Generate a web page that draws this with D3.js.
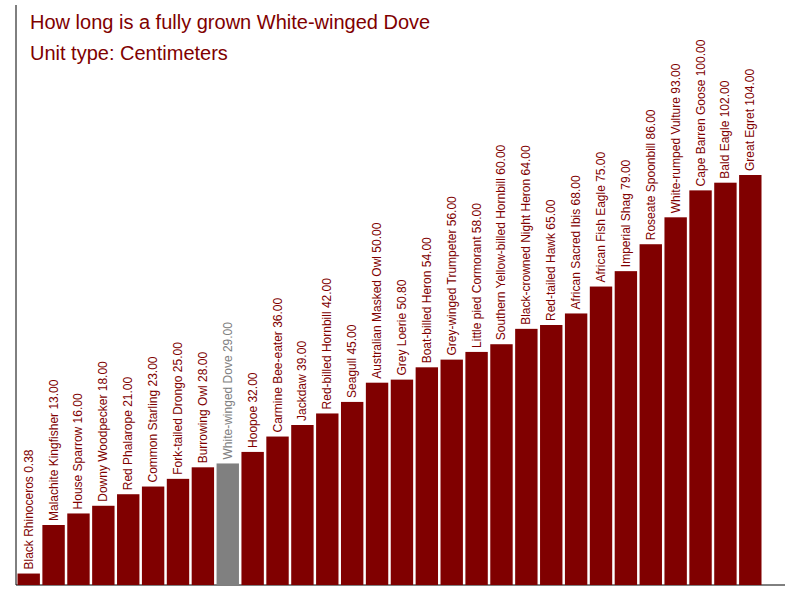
<!DOCTYPE html>
<html><head><meta charset="utf-8">
<script src="https://cdn.jsdelivr.net/npm/d3@7"></script>
<style>body{margin:0;background:#fff}</style></head>
<body><svg id="c" width="800" height="600"></svg>
<script>
const categories=["Black Rhinoceros","Malachite Kingfisher","House Sparrow","Downy Woodpecker","Red Phalarope","Common Starling","Fork-tailed Drongo","Burrowing Owl","White-winged Dove","Hoopoe","Carmine Bee-eater","Jackdaw","Red-billed Hornbill","Seagull","Australian Masked Owl","Grey Loerie","Boat-billed Heron","Grey-winged Trumpeter","Little pied Cormorant","Southern Yellow-billed Hornbill","Black-crowned Night Heron","Red-tailed Hawk","African Sacred Ibis","African Fish Eagle","Imperial Shag","Roseate Spoonbill","White-rumped Vulture","Cape Barren Goose","Bald Eagle","Great Egret"];
const values=[0.38,13,16,18,21,23,25,28,29,32,36,39,42,45,50,50.8,54,56,58,60,64,65,68,75,79,86,93,100,102,104];
const highlight="White-winged Dove";
const svg=d3.select("#c");
const x=d3.scaleBand().domain(categories).range([17,762]).paddingInner(0.1).paddingOuter(0.02);
const y=d3.scaleLinear().domain([-2.6,104]).range([585,175]);
svg.append("line").attr("x1",16).attr("x2",16).attr("y1",5).attr("y2",585).attr("stroke","#000");
svg.append("line").attr("x1",16).attr("x2",785).attr("y1",585).attr("y2",585).attr("stroke","#000");
svg.selectAll("rect").data(values).join("rect")
 .attr("x",(d,i)=>x(categories[i])).attr("width",x.bandwidth())
 .attr("y",d=>y(d)).attr("height",d=>585-y(d))
 .attr("fill",(d,i)=>categories[i]===highlight?"#808080":"#800000");
svg.selectAll("text.l").data(values).join("text").attr("class","l")
 .attr("transform",(d,i)=>`translate(${x(categories[i])+x.bandwidth()/2+4},${y(d)-4}) rotate(-90)`)
 .attr("font-family","Liberation Sans, Arial, sans-serif").attr("font-size",12)
 .attr("fill",(d,i)=>categories[i]===highlight?"#808080":"#800000")
 .text((d,i)=>categories[i]+" "+d.toFixed(2));
svg.append("text").attr("x",30).attr("y",29).attr("font-family","Liberation Sans, Arial, sans-serif").attr("font-size",20).attr("fill","#800000").text("How long is a fully grown White-winged Dove");
svg.append("text").attr("x",30).attr("y",60).attr("font-family","Liberation Sans, Arial, sans-serif").attr("font-size",20).attr("fill","#800000").text("Unit type: Centimeters");
</script></body></html>
